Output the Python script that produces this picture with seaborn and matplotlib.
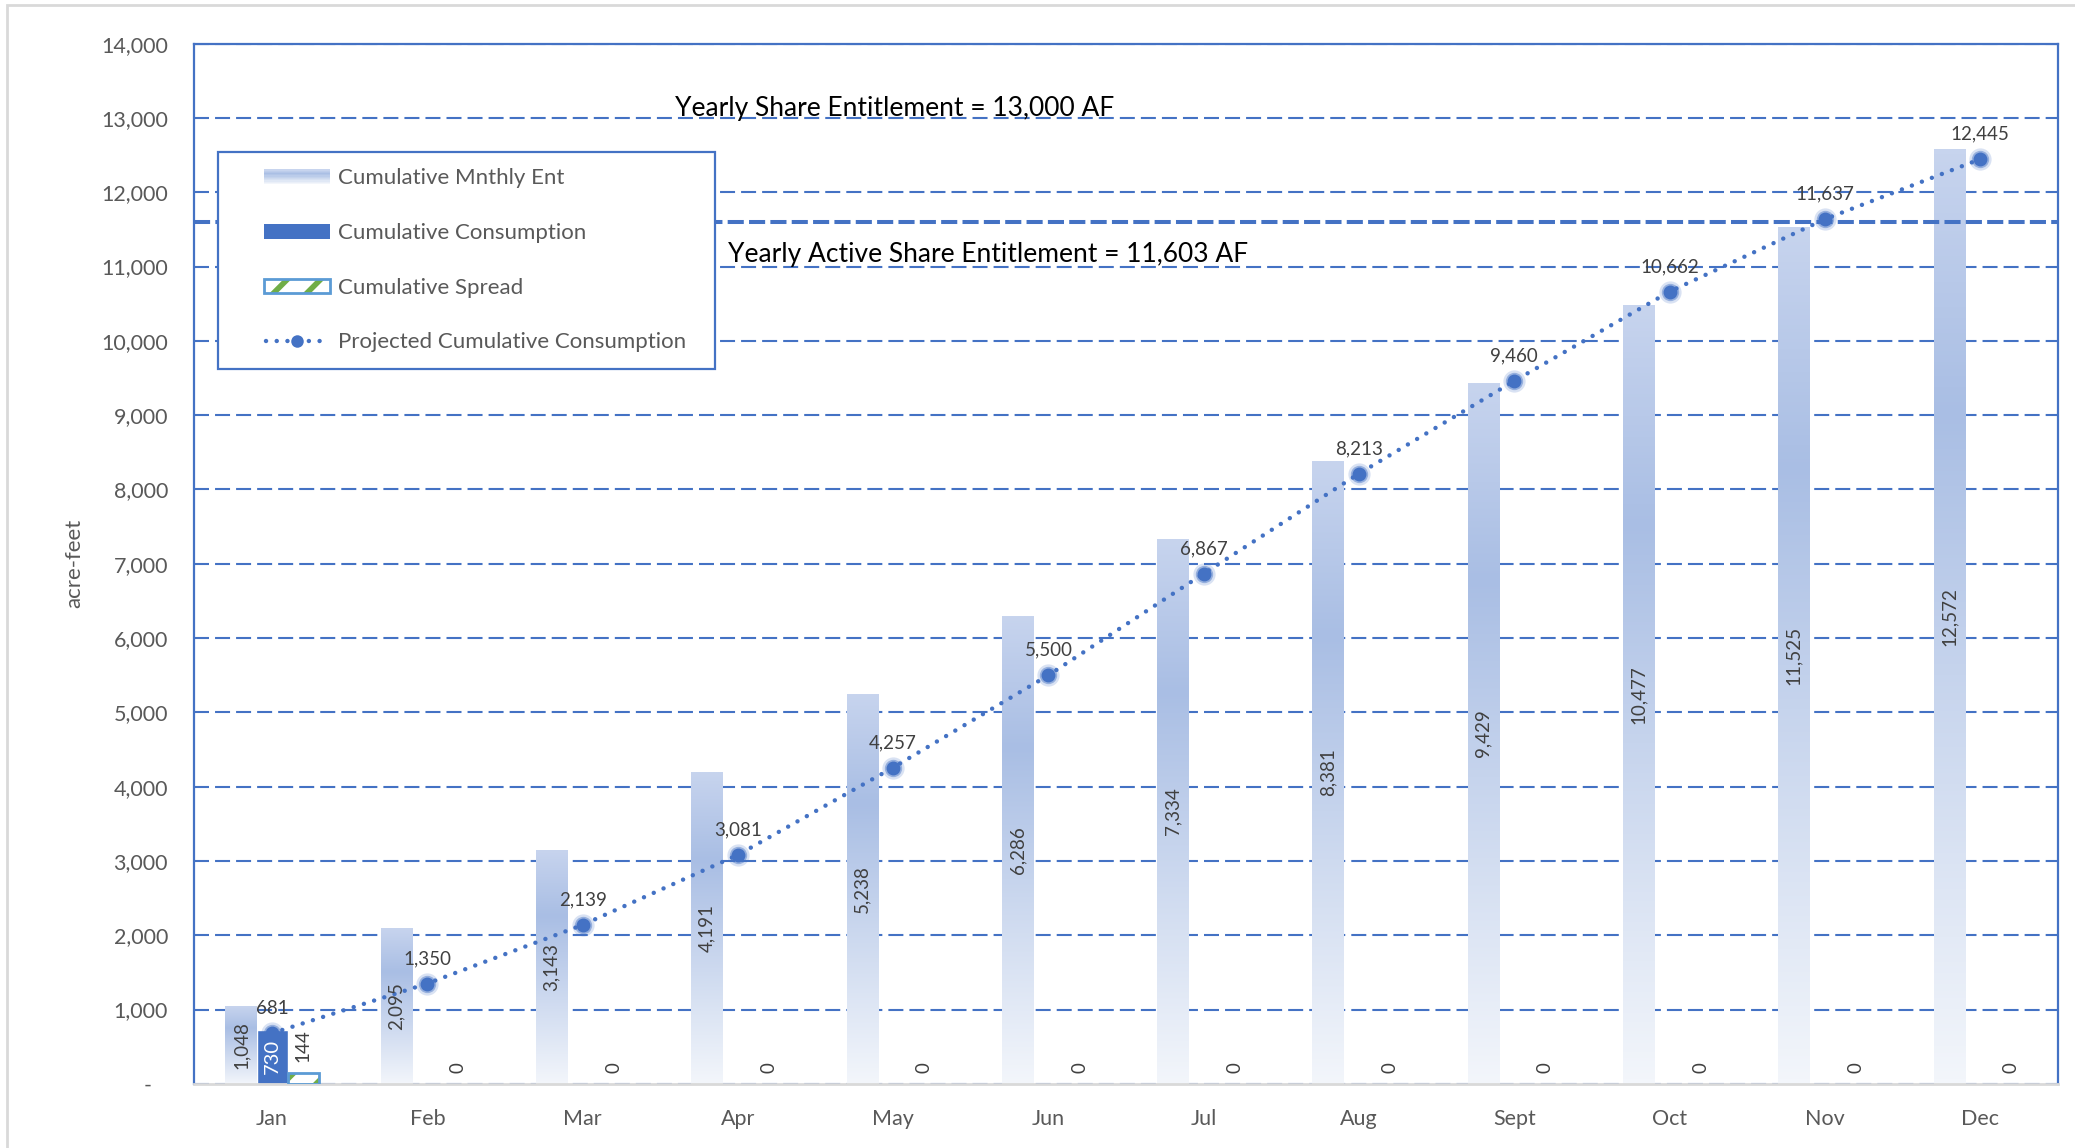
import numpy as np
import pandas as pd
import matplotlib
matplotlib.use("Agg")
import matplotlib.pyplot as plt
import seaborn as sns
from matplotlib.colors import LinearSegmentedColormap
from matplotlib.patches import Rectangle
from matplotlib.lines import Line2D
from matplotlib.legend_handler import HandlerBase
from matplotlib.transforms import blended_transform_factory

# ---- data -------------------------------------------------------------
months = ["Jan", "Feb", "Mar", "Apr", "May", "Jun",
          "Jul", "Aug", "Sept", "Oct", "Nov", "Dec"]
monthly_entitlement = [1048, 2095, 3143, 4191, 5238, 6286,
                       7334, 8381, 9429, 10477, 11525, 12572]
consumption = [730, np.nan, np.nan, np.nan, np.nan, np.nan,
               np.nan, np.nan, np.nan, np.nan, np.nan, np.nan]
spread = [144, 0, 0, 0, 0, 0, 0, 0, 0, 0, 0, 0]
projected = [681, 1350, 2139, 3081, 4257, 5500,
             6867, 8213, 9460, 10662, 11637, 12445]
yearly_entitlement = 13000
active_entitlement = 11603
series_names = ["Cumulative Mnthly Ent", "Cumulative Consumption", "Cumulative Spread"]
line_name = "Projected Cumulative Consumption"
y_ticks = [0, 1000, 2000, 3000, 4000, 5000, 6000, 7000,
           8000, 9000, 10000, 11000, 12000, 13000, 14000]

# ---- style ------------------------------------------------------------
sns.set_style("white")
plt.rcParams["font.family"] = ["Lato", "DejaVu Sans"]
plt.rcParams["hatch.linewidth"] = 4.0

BLUE = "#4472C4"
LIGHT_EDGE = "#5B9BD5"
GREEN = "#70AD47"
GREY_TXT = "#595959"
LABEL_TXT = "#404040"

bar_cmap = LinearSegmentedColormap.from_list(
    "ent", [(0.0, "#C7D4EE"), (0.28, "#A9BEE4"), (1.0, "#F3F6FB")])

fig = plt.figure(figsize=(20.75, 11.48), dpi=100)
fig.patch.set_facecolor("white")
ax = fig.add_axes([0.0937, 0.0559, 0.8980, 0.9061])

df = pd.DataFrame({
    "month": months * 3,
    "series": np.repeat(series_names, len(months)),
    "value": list(monthly_entitlement) + list(consumption) + list(spread),
})

sns.barplot(data=df, x="month", y="value", hue="series",
            order=months, hue_order=series_names, width=0.6,
            palette=["#B4C7E7", BLUE, "white"], saturation=1,
            errorbar=None, legend=False, ax=ax, zorder=2)

ent_bars, cons_bars, spread_bars = ax.containers[:3]


def cat_index(patch):
    return int(round(patch.get_x() + patch.get_width() / 2))


# gradient fill for the entitlement bars
grad = np.linspace(0, 1, 256).reshape(-1, 1)
for p in ent_bars:
    h = p.get_height()
    if not np.isfinite(h) or h <= 0:
        continue
    x0, w = p.get_x(), p.get_width()
    ax.imshow(grad, cmap=bar_cmap, extent=[x0, x0 + w, 0, h], origin="upper",
              aspect="auto", interpolation="bilinear", zorder=2)
    p.set_facecolor("none")
    p.set_edgecolor("none")
    i = cat_index(p)
    ax.text(x0 + w / 2, h / 2, f"{monthly_entitlement[i]:,}", rotation=90,
            ha="center", va="center", fontsize=13.5, color=LABEL_TXT, zorder=6)

# consumption bars
for p in cons_bars:
    h = p.get_height()
    if not np.isfinite(h) or h <= 0:
        continue
    i = cat_index(p)
    ax.text(p.get_x() + p.get_width() / 2, h / 2, f"{consumption[i]:,.0f}",
            rotation=90, ha="center", va="center", fontsize=14.5,
            color="white", zorder=6)

# spread bars: white with green stripes and a light-blue outline
for p in spread_bars:
    h = p.get_height()
    i = cat_index(p)
    xc = p.get_x() + p.get_width() / 2
    if np.isfinite(h) and h > 0:
        p.set_facecolor("white")
        p.set_edgecolor(GREEN)
        p.set_linewidth(0)
        p.set_hatch("/")
        ax.add_patch(Rectangle((p.get_x(), 0), p.get_width(), h, fill=False,
                               edgecolor=LIGHT_EDGE, lw=2, zorder=3))
    else:
        p.set_linewidth(0)
        h = 0
    ax.annotate(f"{spread[i]:,}", (xc, h), xytext=(0, 8),
                textcoords="offset points", rotation=90, ha="center",
                va="bottom", fontsize=13.5, color=LABEL_TXT, zorder=6)

# projected cumulative consumption
sns.pointplot(x=months, y=projected, order=months, color=BLUE, markers="o",
              linestyles=":", errorbar=None, ax=ax)
proj_line = ax.lines[-1]
proj_line.set_linestyle((0, (0.01, 2.4)))
proj_line.set_dash_capstyle("round")
proj_line.set_linewidth(3.2)
proj_line.set_markersize(10)
proj_line.set_markeredgewidth(0)
proj_line.set_zorder(5)
px, py = proj_line.get_xdata(), proj_line.get_ydata()
for ms, a in [(16, 0.2), (12.5, 0.45)]:
    ax.plot(px, py, "o", ms=ms, color=BLUE, alpha=a, mew=0, zorder=5)
for xv, yv in zip(px, projected):
    ax.annotate(f"{yv:,}", (xv, yv), xytext=(0, 18), textcoords="offset points",
                ha="center", va="center", fontsize=13.5, color=LABEL_TXT, zorder=6)

# entitlement reference lines
ax.axhline(active_entitlement, color=BLUE, lw=2.9, ls=(0, (4.0, 1.3)), zorder=4)
trans = blended_transform_factory(ax.transAxes, ax.transData)
ax.text(0.2578, yearly_entitlement + 20, f"Yearly Share Entitlement = {yearly_entitlement:,} AF",
        transform=trans, ha="left", va="baseline", fontsize=19, color="black", zorder=6)
ax.text(0.2862, 11060, f"Yearly Active Share Entitlement = {active_entitlement:,} AF",
        transform=trans, ha="left", va="baseline", fontsize=19, color="black", zorder=6)

# axes, grid and ticks
ax.set_xlim(-0.5, len(months) - 0.5)
ax.set_ylim(0, 14000)
ax.set_yticks(y_ticks, labels=["-   " if t == 0 else f"{t:,}" for t in y_ticks])
ax.set_xticks(range(len(months)), labels=months)
ax.set_axisbelow(True)
ax.yaxis.grid(True, color=BLUE, lw=1.5, ls=(0, (7.2, 2.9)))
ax.xaxis.grid(False)
ax.tick_params(axis="y", length=0, pad=19, labelsize=15.5, labelcolor=GREY_TXT)
ax.tick_params(axis="x", length=0, pad=18, labelsize=15.5, labelcolor=GREY_TXT)
ax.set_xlabel("")
ax.set_ylabel("acre-feet", fontsize=16, color=GREY_TXT)
ax.yaxis.set_label_coords(-0.059, 0.5)
for side in ["left", "top", "right"]:
    ax.spines[side].set_color(BLUE)
    ax.spines[side].set_linewidth(1.6)
ax.spines["bottom"].set_color("#D9D9D9")
ax.spines["bottom"].set_linewidth(2)


# ---- legend ------------------------------------------------------------
HW = 48  # handle width in points


class GradientHandler(HandlerBase):
    def create_artists(self, legend, orig_handle, xdescent, ydescent,
                       width, height, fontsize, trans):
        x0 = -xdescent + width - HW
        hh = 10.5
        y0 = -ydescent + height / 2 - hh / 2
        n = 12
        arts = []
        for k in range(n):
            c = bar_cmap(k / (n - 1))
            arts.append(Rectangle((x0, y0 + hh * (n - 1 - k) / n), HW, hh / n + 0.05,
                                  facecolor=c, edgecolor="none", transform=trans))
        return arts


class SolidHandler(HandlerBase):
    def create_artists(self, legend, orig_handle, xdescent, ydescent,
                       width, height, fontsize, trans):
        x0 = -xdescent + width - HW
        hh = 10.5
        y0 = -ydescent + height / 2 - hh / 2
        return [Rectangle((x0, y0), HW, hh, facecolor=BLUE, edgecolor="none",
                          transform=trans)]


class HatchHandler(HandlerBase):
    def create_artists(self, legend, orig_handle, xdescent, ydescent,
                       width, height, fontsize, trans):
        x0 = -xdescent + width - HW
        hh = 9.5
        y0 = -ydescent + height / 2 - hh / 2
        fill = Rectangle((x0, y0), HW, hh, facecolor="white", edgecolor=GREEN,
                         lw=0, hatch="/", transform=trans)
        edge = Rectangle((x0, y0), HW, hh, fill=False, edgecolor=LIGHT_EDGE,
                         lw=2, transform=trans)
        return [fill, edge]


class DotLineHandler(HandlerBase):
    def create_artists(self, legend, orig_handle, xdescent, ydescent,
                       width, height, fontsize, trans):
        x0 = -xdescent + width - HW
        yc = -ydescent + height / 2
        ln = Line2D([x0 + 2, x0 + HW - 2], [yc, yc], color=BLUE, lw=3.2,
                    ls=(0, (0.01, 2.4)), dash_capstyle="round", transform=trans)
        mk = Line2D([x0 + HW / 2], [yc], color=BLUE, marker="o", ms=9, mew=0,
                    ls="none", transform=trans)
        return [ln, mk]


h_ent = Rectangle((0, 0), 1, 1)
h_cons = Rectangle((0, 0), 1, 1)
h_spread = Rectangle((0, 0), 1, 1)
h_line = Line2D([0], [0])
leg = ax.legend(
    handles=[h_ent, h_cons, h_spread, h_line],
    labels=series_names + [line_name],
    handler_map={h_ent: GradientHandler(), h_cons: SolidHandler(),
                 h_spread: HatchHandler(), h_line: DotLineHandler()},
    loc="upper left", bbox_to_anchor=(0.0126, 0.689, 0.2668, 0.207),
    mode="expand", borderaxespad=0,
    fontsize=16, handlelength=69 / 16, handleheight=0.8, handletextpad=0.36,
    labelspacing=1.55, borderpad=0.74, fancybox=False, framealpha=1,
    edgecolor=BLUE, labelcolor=GREY_TXT,
)
leg.get_frame().set_linewidth(1.6)
leg.set_zorder(10)

# outer chart border
fig.add_artist(Rectangle((7 / 2075, -0.02), 1.1, 1.02 - 5 / 1148,
                         transform=fig.transFigure, fill=False,
                         edgecolor="#D9D9D9", lw=2))

fig.savefig("out.png", dpi=100)
